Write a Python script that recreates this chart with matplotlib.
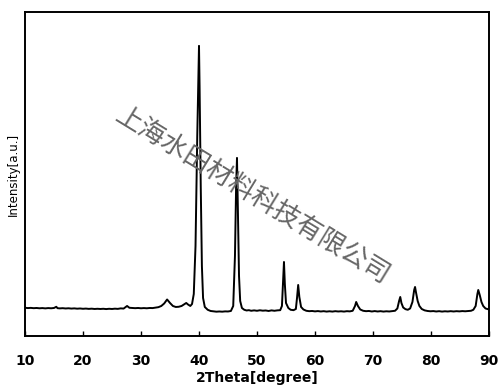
import matplotlib
matplotlib.use("Agg")
import matplotlib.pyplot as plt

two_theta = [10.0, 10.5, 11.0, 11.5, 12.0, 12.5, 13.0, 13.5, 14.0, 14.5, 15.0, 15.4, 15.6, 16.0, 16.5,
             17.0, 17.5, 18.0, 18.5, 19.0, 19.5, 20.0, 20.5, 21.0, 21.5, 22.0, 22.5, 23.0, 23.5, 24.0,
             24.5, 25.0, 25.5, 26.0, 26.5, 27.0, 27.6, 28.0, 28.5, 29.0, 29.5, 30.0, 30.5, 31.0, 31.5,
             32.0, 32.5, 33.0, 33.5, 34.0, 34.5, 35.0, 35.5, 36.0, 36.5, 37.0, 37.5, 37.8, 38.1, 38.5,
             38.8, 39.1, 39.4, 39.7, 39.9, 40.0, 40.1, 40.3, 40.5, 40.7, 41.0, 41.5, 42.0, 42.5, 43.0,
             43.5, 44.0, 44.5, 45.0, 45.5, 45.9, 46.2, 46.4, 46.55, 46.7, 46.9, 47.1, 47.4, 47.8, 48.2,
             48.6, 49.0, 49.5, 50.0, 50.5, 51.0, 51.5, 52.0, 52.5, 53.0, 53.5, 54.0, 54.3, 54.5, 54.65,
             54.8, 55.0, 55.4, 55.8, 56.3, 56.7, 56.9, 57.1, 57.3, 57.6, 58.0, 58.5, 59.0, 59.5, 60.0,
             60.5, 61.0, 61.5, 62.0, 62.5, 63.0, 63.5, 64.0, 64.5, 65.0, 65.5, 66.0, 66.5, 66.9, 67.1,
             67.4, 67.8, 68.3, 68.8, 69.3, 69.8, 70.3, 70.8, 71.3, 71.8, 72.3, 72.8, 73.3, 73.8, 74.2,
             74.5, 74.7, 74.9, 75.2, 75.6, 76.0, 76.4, 76.8, 77.1, 77.25, 77.4, 77.7, 78.0, 78.4, 78.9,
             79.4, 79.9, 80.4, 80.9, 81.4, 81.9, 82.4, 82.9, 83.4, 83.9, 84.4, 84.9, 85.4, 85.9, 86.4,
             86.9, 87.3, 87.7, 88.0, 88.15, 88.4, 88.7, 89.0, 89.4, 89.8, 90.0]
intensity = [282, 279, 281, 278, 280, 277, 279, 276, 279, 277, 280, 292, 278, 276, 278,
             275, 277, 274, 276, 273, 275, 272, 274, 271, 273, 270, 272, 270, 272, 269,
             272, 270, 273, 271, 276, 274, 300, 282, 280, 278, 280, 277, 279, 277, 280,
             279, 283, 288, 300, 325, 365, 330, 300, 290, 292, 300, 318, 330, 315, 300,
             320, 420, 900, 2000, 2600, 2900, 2500, 1500, 700, 380, 290, 262, 250, 246, 243,
             245, 243, 246, 245, 250, 300, 800, 1500, 1780, 1300, 600, 350, 280, 262, 255,
             258, 252, 256, 252, 257, 253, 255, 250, 256, 252, 256, 258, 300, 550, 740,
             520, 330, 280, 262, 258, 270, 380, 510, 390, 290, 265, 252, 248, 250, 246,
             249, 245, 248, 244, 247, 244, 248, 245, 247, 244, 248, 246, 252, 300, 340,
             300, 265, 252, 248, 250, 245, 249, 245, 248, 244, 247, 245, 248, 252, 275,
             350, 390, 330, 285, 268, 262, 275, 340, 460, 490, 440, 350, 300, 270, 256,
             250, 247, 249, 245, 248, 244, 247, 245, 248, 245, 248, 246, 249, 247, 250,
             252, 262, 300, 420, 460, 410, 340, 300, 275, 268, 265]
x_ticks = [10, 20, 30, 40, 50, 60, 70, 80, 90]
watermark = "上海水田材料科技有限公司"

plt.rcParams['font.family'] = ['DejaVu Sans']
fig = plt.figure(figsize=(5.0, 3.9), dpi=100)
ax = fig.add_axes([0.05, 0.1385, 0.928, 0.831])
ax.plot(two_theta, intensity, color='black', lw=1.4)
ax.set_xlim(10, 90)
ax.set_ylim(0, 3240)
ax.set_xticks(x_ticks)
ax.set_yticks([])
ax.tick_params(axis='x', direction='in', length=3.5, width=1, pad=13, labelsize=10)
for lbl in ax.get_xticklabels():
    lbl.set_fontweight('bold')
for s in ax.spines.values():
    s.set_linewidth(1.4)
ax.set_xlabel("2Theta[degree]", fontsize=10, fontweight='bold', labelpad=2)
ax.set_ylabel("Intensity[a.u.]", fontsize=8.5, labelpad=4)

fig.text(0.505, 0.5, watermark, rotation=-31.5, ha='center', va='center',
         fontsize=19, color='#666666', family=['Noto Sans CJK SC'], fontweight='light',
         rotation_mode='anchor')

fig.savefig("out.png", dpi=100)
